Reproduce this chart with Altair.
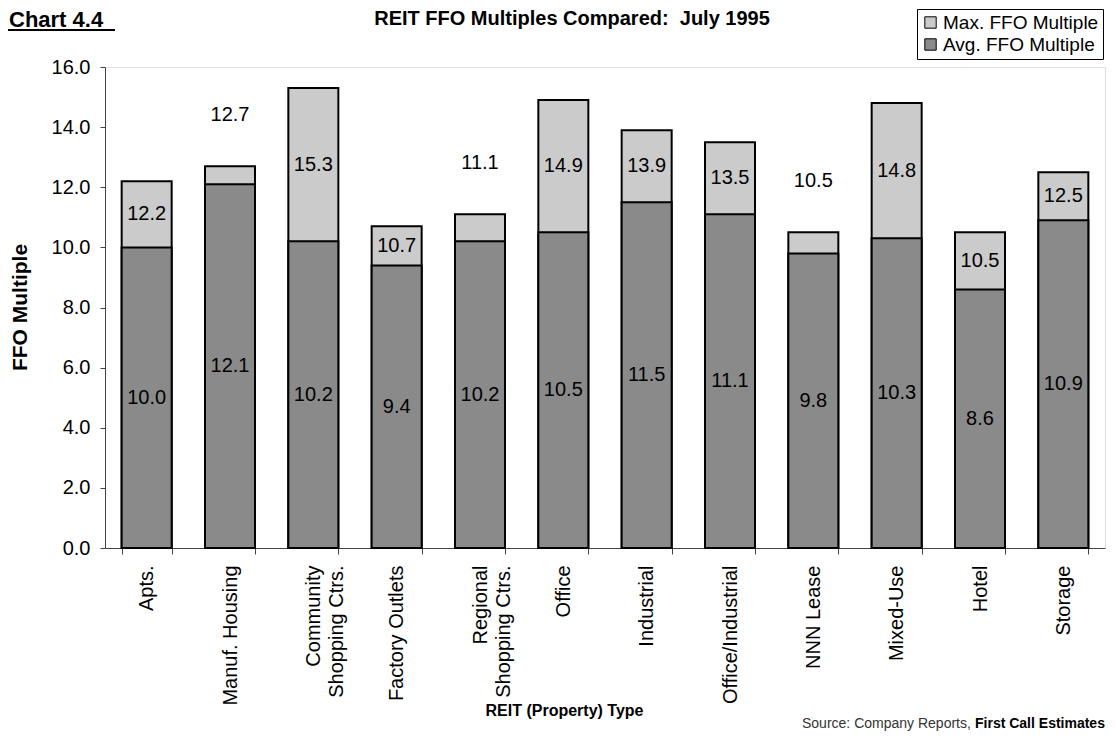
import altair as alt
import pandas as pd

categories = ["Apts.", "Manuf. Housing", "Community\nShopping Ctrs.", "Factory Outlets",
              "Regional\nShopping Ctrs.", "Office", "Industrial", "Office/Industrial",
              "NNN Lease", "Mixed-Use", "Hotel", "Storage"]
avg_multiple = [10.0, 12.1, 10.2, 9.4, 10.2, 10.5, 11.5, 11.1, 9.8, 10.3, 8.6, 10.9]
max_multiple = [12.2, 12.7, 15.3, 10.7, 11.1, 14.9, 13.9, 13.5, 10.5, 14.8, 10.5, 12.5]
y_ticks = [0, 2, 4, 6, 8, 10, 12, 14, 16]

MAX_NAME = "Max. FFO Multiple"
AVG_NAME = "Avg. FFO Multiple"

df = pd.DataFrame({"cat": categories, "avg": avg_multiple, "max": max_multiple})
FONT = "Liberation Sans"

x_enc = alt.X("cat:N", sort=categories, title="REIT (Property) Type",
              scale=alt.Scale(paddingInner=0.4, paddingOuter=0.2),
              axis=alt.Axis(labelAngle=-90, labelFontSize=20, labelFont=FONT, labelColor="black",
                            labelExpr="split(datum.label, '\\n')", labelLineHeight=23,
                            tickBand="extent", tickSize=6, tickColor="#444", domainColor="#444",
                            labelPadding=11, titleFontSize=16, titleFont=FONT, titleFontWeight="bold",
                            titleX=459, titleY=154, titleColor="black"))

y_scale = alt.Scale(domain=[0, 16], nice=False)

base = alt.Chart(df)

bars = base.transform_fold(["max", "avg"], as_=["key", "value"]).transform_calculate(
    series=f"datum.key == 'max' ? '{MAX_NAME}' : '{AVG_NAME}'"
).mark_bar(stroke="black", strokeWidth=2).encode(
    x=x_enc,
    y=alt.Y("value:Q", stack=None, scale=y_scale, title="FFO Multiple",
            axis=alt.Axis(values=y_ticks, format=".1f", labelFontSize=20, labelFont=FONT,
                          labelColor="black", tickSize=5, tickColor="#444", domainColor="#444",
                          labelPadding=10, titleFontSize=21, titleFont=FONT, titleFontWeight="bold",
                          titleColor="black", titleX=-75, titleY=240, grid=False)),
    fill=alt.Fill("series:N", scale=alt.Scale(domain=[MAX_NAME, AVG_NAME], range=["#cbcbcb", "#8a8a8a"]),
                  legend=alt.Legend(title=None, orient="none", legendX=812, legendY=-58,
                                    strokeColor="black", padding=4, symbolType="square",
                                    symbolSize=130, symbolStrokeColor="black", symbolStrokeWidth=1,
                                    labelFontSize=19, labelFont=FONT, labelColor="black",
                                    labelLimit=400, rowPadding=2, labelOffset=3)),
)

max_labels = base.transform_calculate(
    ly="(datum.max - datum.avg) >= 1 ? (datum.max + datum.avg) / 2 : datum.max + 1.7",
    lt="format(datum.max, '.1f')"
).mark_text(fontSize=20, font=FONT, color="black", baseline="middle").encode(
    x=alt.X("cat:N", sort=categories),
    y=alt.Y("ly:Q", scale=y_scale),
    text="lt:N",
)

avg_labels = base.transform_calculate(
    ly="datum.avg / 2",
    lt="format(datum.avg, '.1f')"
).mark_text(fontSize=20, font=FONT, color="black", baseline="middle").encode(
    x=alt.X("cat:N", sort=categories),
    y=alt.Y("ly:Q", scale=y_scale),
    text="lt:N",
)

ann = pd.DataFrame({"t": ["x"]})
title_txt = alt.Chart(ann).mark_text(fontSize=20, font=FONT, fontWeight="bold", color="black",
                                     align="center", baseline="alphabetic").encode(
    x=alt.value(467), y=alt.value(-42),
    text=alt.value("REIT FFO Multiples Compared:\u00a0 July 1995"))
chart_no = alt.Chart(ann).mark_text(fontSize=22, font=FONT, fontWeight="bold", color="black",
                                    align="left", baseline="alphabetic").encode(
    x=alt.value(-96), y=alt.value(-40), text=alt.value("Chart 4.4"))
underline = alt.Chart(ann).mark_rule(color="black", strokeWidth=2).encode(
    x=alt.value(-97), x2=alt.value(10), y=alt.value(-37))
source_a = alt.Chart(ann).mark_text(fontSize=14, font=FONT, color="#333",
                                    align="left", baseline="middle").encode(
    x=alt.value(697), y=alt.value(657), text=alt.value("Source: Company Reports,"))
source_b = alt.Chart(ann).mark_text(fontSize=14, font=FONT, fontWeight="bold", color="black",
                                    align="left", baseline="middle").encode(
    x=alt.value(870), y=alt.value(657), text=alt.value("First Call Estimates"))

chart = alt.layer(bars, max_labels, avg_labels, title_txt, chart_no, underline, source_a, source_b).properties(
    width=1000, height=481,
    autosize=alt.AutoSizeParams(type="none"),
    padding={"left": 97, "top": 59, "right": 3, "bottom": 186},
).configure_view(stroke=None).configure(background="white")

chart.save("out.html", embed_options={"renderer": "svg", "actions": False})
